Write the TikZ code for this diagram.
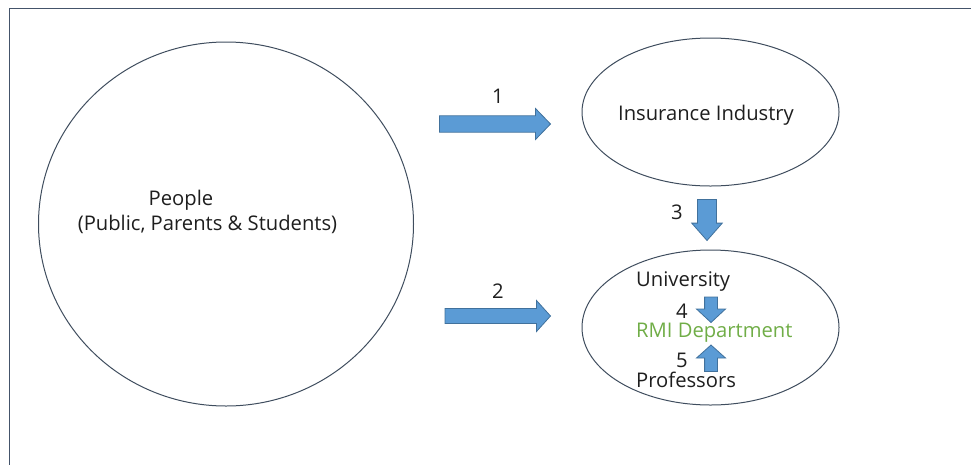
\documentclass[tikz,border=0pt]{standalone}
\usepackage{fontspec}
\setmainfont{Open Sans}
\usetikzlibrary{shapes.geometric}
\definecolor{framec}{HTML}{44546A}
\definecolor{ringc}{HTML}{3F4D5E}
\definecolor{arrowfill}{HTML}{5B9BD5}
\definecolor{arrowline}{HTML}{41719C}
\definecolor{rmigreen}{HTML}{70AD47}
\definecolor{inkc}{HTML}{1E1E1E}
\tikzset{
  bubble/.style={draw=ringc, line width=1pt, ellipse, inner sep=0pt},
  lbl/.style={inner sep=0pt, text=inkc, font=\fontsize{20.2}{24}\selectfont},
  blk/.style={fill=arrowfill, draw=arrowline, line width=0.8pt, line join=miter},
  % block arrow: #1 length, #2 half shaft, #3 half head, #4 head length
  pics/barrow/.style n args={4}{code={
    \draw[blk] (0,-#2) -- ({#1-#4},-#2) -- ({#1-#4},-#3) -- (#1,0)
      -- ({#1-#4},#3) -- ({#1-#4},#2) -- (0,#2) -- cycle;
  }}
}
\begin{document}
\begin{tikzpicture}[x=1pt,y=-1pt]
\useasboundingbox (0,0) rectangle (971,464);
\clip (0,0) rectangle (971,464);

% outer frame
\draw[framec, line width=1.8pt] (9.5,8.5) rectangle (1000,500);

% the three groups
\node[bubble, minimum width=375pt, minimum height=364pt] (people) at (226,224) {};
\node[bubble, minimum width=257pt, minimum height=148pt] (insurance) at (710.5,112) {};
\node[bubble, minimum width=257pt, minimum height=155pt] (univ) at (710.5,327.5) {};

% texts
\node[lbl, anchor=base] (peopleA) at (181,205) {People};
\node[lbl, anchor=base] (peopleB) at (207.5,230.7) {(Public, Parents \& Students)};
\node[lbl, anchor=base] (insT) at (706,120.7) {Insurance Industry};
\node[lbl, anchor=base west] (uniT) at (636,286.7) {University};
\node[lbl, anchor=base west, text=rmigreen] (rmiT) at (636,337.3) {RMI Department};
\node[lbl, anchor=base west] (profT) at (636,387.3) {Professors};

% numbered block arrows
\pic at (439.5,124) {barrow={111}{8.2}{15.5}{15}};
\node[lbl, anchor=base] (n1) at (498,103.5) {1};
\pic at (445,316) {barrow={105.5}{7.5}{15.5}{14}};
\node[lbl, anchor=base] (n2) at (498,298.5) {2};
\pic[rotate=-90] at (707,199.5) {barrow={41}{9.5}{15.3}{17.4}};
\node[lbl, anchor=base] (n3) at (677,219) {3};
\pic[rotate=-90] at (711,297) {barrow={25.5}{6.4}{14.5}{13.5}};
\node[lbl, anchor=base] (n4) at (682,318.3) {4};
\pic[rotate=90] at (711,371.5) {barrow={26.5}{6.4}{14.5}{13}};
\node[lbl, anchor=base] (n5) at (682,367) {5};
\end{tikzpicture}
\end{document}
